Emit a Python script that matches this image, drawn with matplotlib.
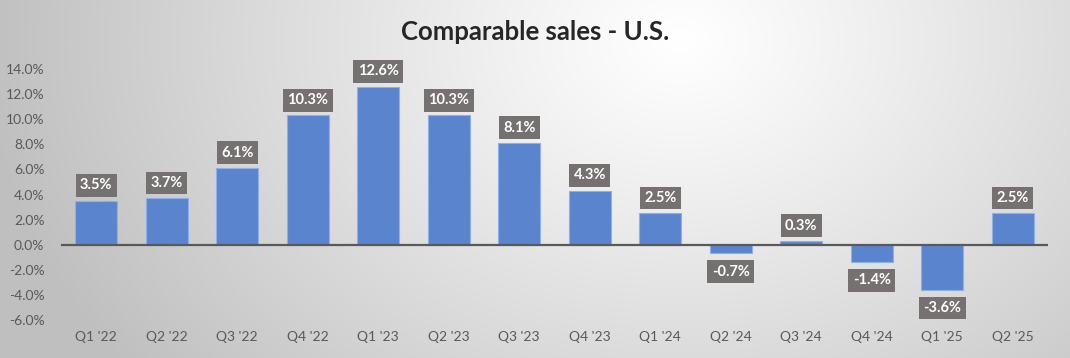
import numpy as np
import matplotlib
matplotlib.use("Agg")
import matplotlib.pyplot as plt
from matplotlib.ticker import FuncFormatter, MultipleLocator

quarters = ["Q1 '22", "Q2 '22", "Q3 '22", "Q4 '22", "Q1 '23", "Q2 '23", "Q3 '23",
            "Q4 '23", "Q1 '24", "Q2 '24", "Q3 '24", "Q4 '24", "Q1 '25", "Q2 '25"]
comp_sales = [3.5, 3.7, 6.1, 10.3, 12.6, 10.3, 8.1, 4.3, 2.5, -0.7, 0.3, -1.4, -3.6, 2.5]
title = "Comparable sales - U.S."

plt.rcParams['font.family'] = ['Lato', 'DejaVu Sans']

W, H = 1070, 358
fig = plt.figure(figsize=(W / 100, H / 100), dpi=100)

# background radial gradient
bg = fig.add_axes([0, 0, 1, 1], zorder=0)
yy, xx = np.mgrid[0:H, 0:W]
d = np.sqrt(((xx - 680) / 1.0) ** 2 + ((yy - 40) * 1.3) ** 2)
v = 1.0 - 0.25 * np.clip(d / 700, 0, 1) ** 1.1
bg.imshow(np.dstack([v, v, v]), aspect='auto', extent=[0, 1, 0, 1], origin='upper')
bg.axis('off')

ax = fig.add_axes([61 / W, 1 - 320 / H, (1048 - 61) / W, (320 - 69) / H], zorder=1)
ax.patch.set_alpha(0)
x = np.arange(len(quarters))
ax.bar(x, comp_sales, width=0.6, color='#5A84CD', edgecolor='#8FB0E6', linewidth=0.8, zorder=2)
ax.axhline(0, color='#595959', lw=1.6, zorder=3)
ax.set_xlim(-0.5, len(quarters) - 0.5)
ax.set_ylim(-6, 14)
ax.yaxis.set_major_locator(MultipleLocator(2))
ax.yaxis.set_major_formatter(FuncFormatter(lambda v, p: f"{v:.1f}%"))
ax.set_xticks(x)
ax.set_xticklabels(quarters)
ax.tick_params(axis='both', length=0, labelsize=10, colors='#595959', pad=8)
ax.tick_params(axis='y', pad=12)
for s in ax.spines.values():
    s.set_visible(False)

for xi, v in zip(x, comp_sales):
    off = 11 if v >= 0 else -13
    ax.annotate(f"{v:.1f}%", (xi, v), xytext=(0, off), textcoords='offset points',
                ha='center', va='center', fontsize=10.5, fontweight='bold', color='white',
                bbox=dict(boxstyle='square,pad=0.3', fc='#767171', ec='none'), zorder=4)

fig.text(0.5, 1 - 32 / H, title, ha='center', va='center', fontsize=18.5,
         fontweight='bold', color='#262626')

fig.savefig("out.png", dpi=100)
